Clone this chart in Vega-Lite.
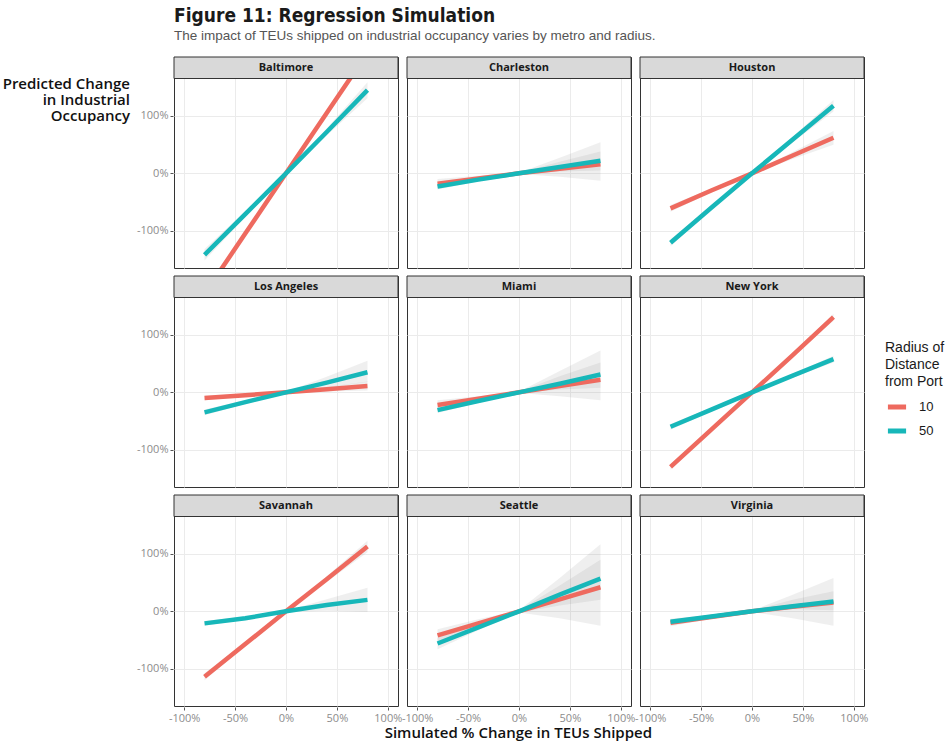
{
  "$schema": "https://vega.github.io/schema/vega-lite/v6.json",
  "background": "white",
  "padding": {"left": 2, "top": 6, "right": 5, "bottom": 2},
  "title": {
    "text": "Figure 11: Regression Simulation",
    "subtitle": "The impact of TEUs shipped on industrial occupancy varies by metro and radius.",
    "anchor": "start",
    "frame": "group",
    "font": "DejaVu Sans Condensed, sans-serif",
    "fontSize": 19,
    "fontWeight": "bold",
    "color": "#1a1a1a",
    "subtitleFont": "Liberation Sans",
    "subtitleFontSize": 13.5,
    "subtitleColor": "#555555",
    "subtitlePadding": 3,
    "offset": 14
  },
  "data": {
    "values": [
      {"m": "Baltimore", "r": "10", "x": -80, "y": -210, "lo": -218, "hi": -202},
      {"m": "Baltimore", "r": "10", "x": -40, "y": -105, "lo": -109, "hi": -101},
      {"m": "Baltimore", "r": "10", "x": 0, "y": 0, "lo": -1, "hi": 1},
      {"m": "Baltimore", "r": "10", "x": 40, "y": 105, "lo": 101, "hi": 109},
      {"m": "Baltimore", "r": "10", "x": 80, "y": 210, "lo": 202, "hi": 218},
      {"m": "Baltimore", "r": "50", "x": -80, "y": -142, "lo": -152, "hi": -132},
      {"m": "Baltimore", "r": "50", "x": -40, "y": -71, "lo": -76, "hi": -66},
      {"m": "Baltimore", "r": "50", "x": 0, "y": 0, "lo": -1, "hi": 1},
      {"m": "Baltimore", "r": "50", "x": 40, "y": 72, "lo": 66, "hi": 78},
      {"m": "Baltimore", "r": "50", "x": 80, "y": 145, "lo": 131, "hi": 159},
      {"m": "Charleston", "r": "10", "x": -80, "y": -18, "lo": -26, "hi": -10},
      {"m": "Charleston", "r": "10", "x": -40, "y": -9, "lo": -13, "hi": -4},
      {"m": "Charleston", "r": "10", "x": 0, "y": 0, "lo": -1, "hi": 1},
      {"m": "Charleston", "r": "10", "x": 40, "y": 8, "lo": -6, "hi": 27},
      {"m": "Charleston", "r": "10", "x": 80, "y": 16, "lo": -13, "hi": 54},
      {"m": "Charleston", "r": "50", "x": -80, "y": -23, "lo": -28, "hi": -18},
      {"m": "Charleston", "r": "50", "x": -40, "y": -11, "lo": -14, "hi": -8},
      {"m": "Charleston", "r": "50", "x": 0, "y": 0, "lo": -1, "hi": 1},
      {"m": "Charleston", "r": "50", "x": 40, "y": 11, "lo": 3, "hi": 20},
      {"m": "Charleston", "r": "50", "x": 80, "y": 22, "lo": 5, "hi": 38},
      {"m": "Houston", "r": "10", "x": -80, "y": -61, "lo": -67, "hi": -55},
      {"m": "Houston", "r": "10", "x": -40, "y": -30, "lo": -33, "hi": -27},
      {"m": "Houston", "r": "10", "x": 0, "y": 0, "lo": -1, "hi": 1},
      {"m": "Houston", "r": "10", "x": 40, "y": 31, "lo": 25, "hi": 37},
      {"m": "Houston", "r": "10", "x": 80, "y": 62, "lo": 50, "hi": 74},
      {"m": "Houston", "r": "50", "x": -80, "y": -121, "lo": -127, "hi": -115},
      {"m": "Houston", "r": "50", "x": -40, "y": -60, "lo": -63, "hi": -57},
      {"m": "Houston", "r": "50", "x": 0, "y": 0, "lo": -1, "hi": 1},
      {"m": "Houston", "r": "50", "x": 40, "y": 59, "lo": 54, "hi": 64},
      {"m": "Houston", "r": "50", "x": 80, "y": 118, "lo": 108, "hi": 128},
      {"m": "Los Angeles", "r": "10", "x": -80, "y": -10, "lo": -14, "hi": -6},
      {"m": "Los Angeles", "r": "10", "x": -40, "y": -5, "lo": -7, "hi": -3},
      {"m": "Los Angeles", "r": "10", "x": 0, "y": 0, "lo": -1, "hi": 1},
      {"m": "Los Angeles", "r": "10", "x": 40, "y": 5.5, "lo": 1.5, "hi": 9.5},
      {"m": "Los Angeles", "r": "10", "x": 80, "y": 11, "lo": 3, "hi": 19},
      {"m": "Los Angeles", "r": "50", "x": -80, "y": -35, "lo": -40, "hi": -30},
      {"m": "Los Angeles", "r": "50", "x": -40, "y": -17, "lo": -20, "hi": -14},
      {"m": "Los Angeles", "r": "50", "x": 0, "y": 0, "lo": -1, "hi": 1},
      {"m": "Los Angeles", "r": "50", "x": 40, "y": 17, "lo": 9, "hi": 27},
      {"m": "Los Angeles", "r": "50", "x": 80, "y": 35, "lo": 18, "hi": 55},
      {"m": "Miami", "r": "10", "x": -80, "y": -22, "lo": -30, "hi": -14},
      {"m": "Miami", "r": "10", "x": -40, "y": -11, "lo": -15, "hi": -7},
      {"m": "Miami", "r": "10", "x": 0, "y": 0, "lo": -1, "hi": 1},
      {"m": "Miami", "r": "10", "x": 40, "y": 11, "lo": -7, "hi": 37},
      {"m": "Miami", "r": "10", "x": 80, "y": 22, "lo": -14, "hi": 73},
      {"m": "Miami", "r": "50", "x": -80, "y": -31, "lo": -36, "hi": -26},
      {"m": "Miami", "r": "50", "x": -40, "y": -15, "lo": -18, "hi": -12},
      {"m": "Miami", "r": "50", "x": 0, "y": 0, "lo": -1, "hi": 1},
      {"m": "Miami", "r": "50", "x": 40, "y": 15, "lo": 5, "hi": 28},
      {"m": "Miami", "r": "50", "x": 80, "y": 31, "lo": 8, "hi": 52},
      {"m": "New York", "r": "10", "x": -80, "y": -130, "lo": -135, "hi": -125},
      {"m": "New York", "r": "10", "x": -40, "y": -65, "lo": -68, "hi": -62},
      {"m": "New York", "r": "10", "x": 0, "y": 0, "lo": -1, "hi": 1},
      {"m": "New York", "r": "10", "x": 40, "y": 65, "lo": 62, "hi": 68},
      {"m": "New York", "r": "10", "x": 80, "y": 131, "lo": 125, "hi": 137},
      {"m": "New York", "r": "50", "x": -80, "y": -60, "lo": -65, "hi": -55},
      {"m": "New York", "r": "50", "x": -40, "y": -30, "lo": -33, "hi": -27},
      {"m": "New York", "r": "50", "x": 0, "y": 0, "lo": -1, "hi": 1},
      {"m": "New York", "r": "50", "x": 40, "y": 29, "lo": 26, "hi": 32},
      {"m": "New York", "r": "50", "x": 80, "y": 58, "lo": 52, "hi": 64},
      {"m": "Savannah", "r": "10", "x": -80, "y": -114, "lo": -120, "hi": -108},
      {"m": "Savannah", "r": "10", "x": -40, "y": -57, "lo": -60, "hi": -54},
      {"m": "Savannah", "r": "10", "x": 0, "y": 0, "lo": -1, "hi": 1},
      {"m": "Savannah", "r": "10", "x": 40, "y": 56, "lo": 51, "hi": 61},
      {"m": "Savannah", "r": "10", "x": 80, "y": 113, "lo": 103, "hi": 123},
      {"m": "Savannah", "r": "50", "x": -80, "y": -21, "lo": -25, "hi": -17},
      {"m": "Savannah", "r": "50", "x": -40, "y": -12, "lo": -14, "hi": -9},
      {"m": "Savannah", "r": "50", "x": 0, "y": 0, "lo": -1, "hi": 1},
      {"m": "Savannah", "r": "50", "x": 40, "y": 11, "lo": 1, "hi": 21},
      {"m": "Savannah", "r": "50", "x": 80, "y": 20, "lo": -1, "hi": 41},
      {"m": "Seattle", "r": "10", "x": -80, "y": -42, "lo": -57, "hi": -31},
      {"m": "Seattle", "r": "10", "x": -40, "y": -21, "lo": -30, "hi": -14},
      {"m": "Seattle", "r": "10", "x": 0, "y": 0, "lo": -2, "hi": 2},
      {"m": "Seattle", "r": "10", "x": 40, "y": 21, "lo": -12, "hi": 58},
      {"m": "Seattle", "r": "10", "x": 80, "y": 42, "lo": -25, "hi": 117},
      {"m": "Seattle", "r": "50", "x": -80, "y": -56, "lo": -66, "hi": -46},
      {"m": "Seattle", "r": "50", "x": -40, "y": -28, "lo": -33, "hi": -22},
      {"m": "Seattle", "r": "50", "x": 0, "y": 0, "lo": -2, "hi": 2},
      {"m": "Seattle", "r": "50", "x": 40, "y": 29, "lo": 10, "hi": 45},
      {"m": "Seattle", "r": "50", "x": 80, "y": 57, "lo": 20, "hi": 90},
      {"m": "Virginia", "r": "10", "x": -80, "y": -20, "lo": -26, "hi": -13},
      {"m": "Virginia", "r": "10", "x": -40, "y": -10, "lo": -13, "hi": -6},
      {"m": "Virginia", "r": "10", "x": 0, "y": 0, "lo": -1, "hi": 1},
      {"m": "Virginia", "r": "10", "x": 40, "y": 8, "lo": -12, "hi": 29},
      {"m": "Virginia", "r": "10", "x": 80, "y": 15.5, "lo": -25, "hi": 58},
      {"m": "Virginia", "r": "50", "x": -80, "y": -18, "lo": -22, "hi": -14},
      {"m": "Virginia", "r": "50", "x": -40, "y": -9, "lo": -11, "hi": -7},
      {"m": "Virginia", "r": "50", "x": 0, "y": 0, "lo": -1, "hi": 1},
      {"m": "Virginia", "r": "50", "x": 40, "y": 9, "lo": 4, "hi": 20},
      {"m": "Virginia", "r": "50", "x": 80, "y": 17, "lo": 2, "hi": 35}
    ]
  },
  "vconcat": [
    {
      "title": {
        "text": "Simulated % Change in TEUs Shipped",
        "orient": "bottom",
        "anchor": "start",
        "frame": "bounds",
        "dx": 382,
        "font": "Open Sans",
        "fontWeight": 600,
        "fontSize": 15,
        "color": "#111111",
        "offset": 3
      },
      "hconcat": [
        {
          "title": {
            "text": ["Predicted Change", "in Industrial", "Occupancy"],
            "orient": "top",
            "anchor": "start",
            "frame": "group",
            "align": "right",
            "baseline": "top",
            "dx": -44,
            "offset": -68,
            "font": "Open Sans",
            "fontWeight": 600,
            "fontSize": 15,
            "lineHeight": 16,
            "color": "#111111"
          },
          "facet": {"field": "m", "type": "nominal", "header": {"title": null, "labelExpr": "''", "labelFontSize": 0, "labelPadding": 0}},
          "columns": 3,
          "spacing": {"row": 6, "column": 7},
          "spec": {
            "width": 224,
            "height": 211,
            "layer": [
              {
                "mark": {"type": "area", "clip": true, "color": "#808080", "opacity": 0.13},
                "encoding": {
                  "x": {"field": "x", "type": "quantitative", "scale": {"domain": [-110, 110], "nice": false, "zero": false}},
                  "y": {"field": "lo", "type": "quantitative", "scale": {"domain": [-165, 202.8], "nice": false, "zero": false}},
                  "y2": {"field": "hi"},
                  "detail": {"field": "r"}
                }
              },
              {
                "mark": {"type": "line", "clip": true, "strokeWidth": 4.5},
                "encoding": {
                  "x": {
                    "field": "x", "type": "quantitative",
                    "title": null,
                    "axis": {
                      "values": [-100, -75, -50, -25, 0, 25, 50, 75, 100],
                      "labelExpr": "datum.value % 50 === 0 ? datum.value + '%' : ''",
                      "gridWidth": {"condition": {"test": "datum.value % 50 === 0", "value": 1}, "value": 0.5},
                      "tickOpacity": {"condition": {"test": "datum.value % 50 === 0", "value": 1}, "value": 0},
                      "labelOverlap": false,
                      "labelFlush": false,
                      "labelBound": false,
                      "labelPadding": 2
                    }
                  },
                  "y": {
                    "field": "y", "type": "quantitative",
                    "title": null,
                    "axis": {
                      "values": [-100, 0, 100],
                      "labelExpr": "datum.value + '%'",
                      "labelOverlap": false,
                      "labelFlush": false,
                      "labelBound": false,
                      "labelPadding": 2
                    }
                  },
                  "color": {
                    "field": "r", "type": "nominal",
                    "scale": {"domain": ["10", "50"], "range": ["#EE6A5F", "#17B7B9"]},
                    "legend": {
                      "title": ["Radius of", "Distance", "from Port"],
                      "orient": "none",
                      "legendX": 711,
                      "legendY": 284
                    }
                  }
                }
              },
              {
                "transform": [{"filter": "datum.x === 0 && datum.r === '10'"}],
                "mark": {"type": "rect", "fill": "#d9d9d9", "stroke": "#333333", "strokeWidth": 1},
                "encoding": {
                  "x": {"datum": -110},
                  "x2": {"datum": 110},
                  "y": {"datum": 165.3},
                  "y2": {"datum": 202.8}
                }
              },
              {
                "transform": [{"filter": "datum.x === 0 && datum.r === '10'"}],
                "mark": {"type": "text", "font": "Open Sans", "fontWeight": "bold", "fontSize": 11, "color": "#1a1a1a", "baseline": "middle"},
                "encoding": {
                  "x": {"datum": 0},
                  "y": {"datum": 184},
                  "text": {"field": "m"}
                }
              }
            ]
          }
        }
      ]
    }
  ],
  "config": {
    "view": {"stroke": "#333333", "strokeWidth": 1},
    "axis": {
      "domain": false,
      "gridColor": "#ebebeb",
      "tickColor": "#555555",
      "tickSize": 3,
      "labelFont": "Open Sans",
      "labelFontSize": 11,
      "labelColor": "#8c8c8c"
    },
    "legend": {
      "titleFont": "Liberation Sans",
      "titleFontSize": 14,
      "titleFontWeight": "normal",
      "titleColor": "#1a1a1a",
      "titleLineHeight": 17,
      "titlePadding": 6,
      "labelFont": "Liberation Sans",
      "labelFontSize": 13,
      "labelColor": "#1a1a1a",
      "symbolType": "stroke",
      "symbolStrokeWidth": 5,
      "symbolSize": 330,
      "rowPadding": 2,
      "labelOffset": 10
    }
  }
}
